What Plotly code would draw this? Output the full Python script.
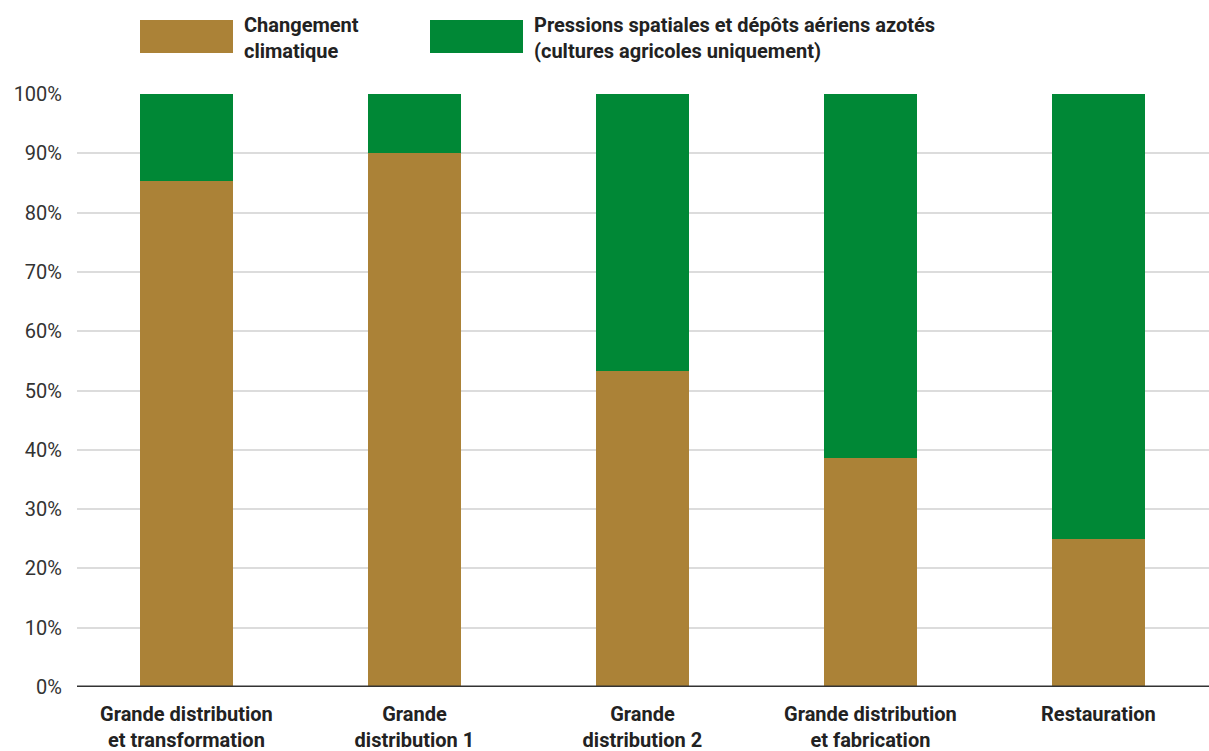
import plotly.graph_objects as go

categories = ["Grande distribution<br>et transformation", "Grande<br>distribution 1",
              "Grande<br>distribution 2", "Grande distribution<br>et fabrication", "Restauration"]
climat = [85.3, 90.0, 53.3, 38.6, 25.0]
pressions = [100 - v for v in climat]
series_names = ["Changement<br>climatique",
                "Pressions spatiales et dépôts aériens azotés<br>(cultures agricoles uniquement)"]
colors = ["#AB8237", "#008836"]
yticks = list(range(0, 101, 10))
yticklabels = [f"{v}%" for v in yticks]

FONT = "Roboto"

fig = go.Figure()
for vals, name, col in zip([climat, pressions], series_names, colors):
    fig.add_trace(go.Bar(x=categories, y=vals, name=name, marker=dict(color=col, line=dict(width=0)),
                         width=0.408, showlegend=False))

fig.update_layout(
    barmode="stack",
    width=1209, height=751,
    margin=dict(l=77, r=0, t=94, b=64),
    paper_bgcolor="white", plot_bgcolor="white",
    font=dict(family=FONT, size=20, color="#333333"),
    xaxis=dict(range=[-0.48, 4.485], showgrid=False, showline=False, ticks="",
               ticklabelstandoff=13, automargin=False,
               tickfont=dict(family=FONT, size=20, color="#222222", weight="bold")),
    yaxis=dict(range=[0, 100], tickvals=yticks, ticktext=yticklabels, showgrid=True,
               gridcolor="#dcdcdc", gridwidth=2, zeroline=False, showline=False, automargin=False,
               ticks="", ticklabelstandoff=14, tickfont=dict(family=FONT, size=20, color="#333333")),
)

# zero baseline
fig.add_shape(type="line", xref="paper", yref="y", x0=0, x1=1, y0=0, y1=0,
              line=dict(color="#333333", width=3), layer="above")

# legend drawn manually
legend_boxes = [(140, 233), (430, 523)]
for (x0, x1), name, col in zip(legend_boxes, series_names, colors):
    fig.add_shape(type="rect", xref="paper", yref="paper",
                  x0=(x0 - 77) / 1132, x1=(x1 - 77) / 1132,
                  y0=(687 - 20) / 593, y1=(687 - 53) / 593,
                  fillcolor=col, line=dict(width=0))
    fig.add_annotation(xref="paper", yref="paper", x=(x1 + 9 - 77) / 1132, y=(687 - 38) / 593,
                       text=name, showarrow=False, xanchor="left", yanchor="middle", align="left",
                       font=dict(family=FONT, size=20, color="#222222", weight="bold"))

fig.write_html("out.html")
